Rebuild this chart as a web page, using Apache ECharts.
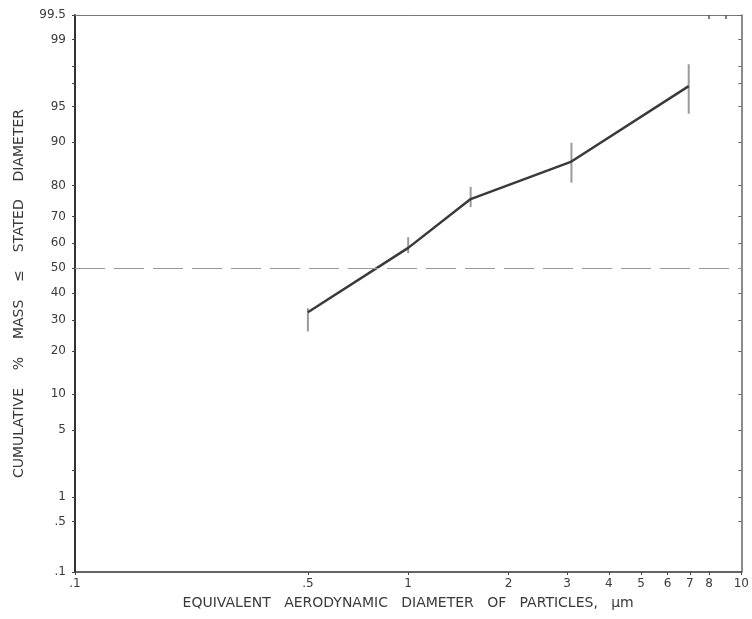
<!DOCTYPE html>
<html>
<head>
<meta charset="utf-8">
<script src="https://cdn.jsdelivr.net/npm/echarts@6/dist/echarts.min.js"></script>
<style>
html,body{margin:0;padding:0;background:#fff;}
#chart{width:752px;height:619px;}
</style>
</head>
<body>
<div id="chart"></div>
<script>
// ---- data ----
const diameters = [0.5, 1.0, 1.54, 3.09, 6.95];          // µm
const cumPercent = [32.7, 58.2, 75.9, 86.1, 96.8];      // cumulative % mass
const errLow = [26.0, 56.1, 73.3, 80.8, 94.2];
const errHigh = [34.2, 62.4, 79.6, 89.9, 98.1];
const refPercent = 50;

const xTickValues = [0.1, 0.5, 1, 2, 3, 4, 5, 6, 7, 8, 10];
const xTickLabels = ['.1', '.5', '1', '2', '3', '4', '5', '6', '7', '8', '10'];
const xTopTicks = [8, 9];
const yTickValues = [0.1, 0.5, 1, 5, 10, 20, 30, 40, 50, 60, 70, 80, 90, 95, 99, 99.5];
const yTickLabels = ['.1', '.5', '1', '5', '10', '20', '30', '40', '50', '60', '70', '80', '90', '95', '99', '99.5'];
const yMinorTicks = [2, 97, 98];

// ---- scale helpers: log10 for diameter, probit (normal quantile) for percent ----
function probit(p) {
  const a=[-3.969683028665376e+01,2.209460984245205e+02,-2.759285104469687e+02,1.383577518672690e+02,-3.066479806614716e+01,2.506628277459239e+00];
  const b=[-5.447609879822406e+01,1.615858368580409e+02,-1.556989798598866e+02,6.680131188771972e+01,-1.328068155288572e+01];
  const c=[-7.784894002430293e-03,-3.223964580411365e-01,-2.400758277161838e+00,-2.549732539343734e+00,4.374664141464968e+00,2.938163982698783e+00];
  const d=[7.784695709041462e-03,3.224671290700398e-01,2.445134137142996e+00,3.754408661907416e+00];
  const pl=0.02425, ph=1-pl;
  if (p < pl) { const q=Math.sqrt(-2*Math.log(p)); return (((((c[0]*q+c[1])*q+c[2])*q+c[3])*q+c[4])*q+c[5])/((((d[0]*q+d[1])*q+d[2])*q+d[3])*q+1); }
  if (p <= ph) { const q=p-0.5, r=q*q; return (((((a[0]*r+a[1])*r+a[2])*r+a[3])*r+a[4])*r+a[5])*q/(((((b[0]*r+b[1])*r+b[2])*r+b[3])*r+b[4])*r+1); }
  const q=Math.sqrt(-2*Math.log(1-p)); return -(((((c[0]*q+c[1])*q+c[2])*q+c[3])*q+c[4])*q+c[5])/((((d[0]*q+d[1])*q+d[2])*q+d[3])*q+1);
}
const fx = v => Math.log10(v);
const fy = v => probit(v / 100);

const xMin = fx(0.1), xMax = fx(10);
const yMin = fy(0.1), yMax = fy(99.5);

function labelFor(values, labels, f) {
  return function (val) {
    for (let i = 0; i < values.length; i++) {
      if (Math.abs(f(values[i]) - val) < 1e-6) return labels[i];
    }
    return '';
  };
}

const lineData = diameters.map((d, i) => [fx(d), fy(cumPercent[i])]);
const errData = diameters.map((d, i) => [fx(d), fy(errLow[i]), fy(errHigh[i])]);

const font = 'DejaVu Sans';
const txt = '#3a3a3a';

const chart = echarts.init(document.getElementById('chart'));
chart.setOption({
  animation: false,
  backgroundColor: '#ffffff',
  grid: { left: 75, right: 7, top: 15, bottom: 47, containLabel: false },
  xAxis: [{
    type: 'value', min: xMin, max: xMax, position: 'bottom',
    name: 'EQUIVALENT   AERODYNAMIC   DIAMETER   OF   PARTICLES,   μm',
    nameLocation: 'middle', nameGap: 24,
    nameTextStyle: { fontFamily: font, fontSize: 14, color: txt },
    axisLine: { show: true, onZero: false, lineStyle: { color: '#333', width: 1.5 } },
    axisTick: { show: true, inside: false, length: 3, lineStyle: { color: '#444' }, customValues: xTickValues.map(fx) },
    axisLabel: { show: true, margin: 6, fontFamily: font, fontSize: 12, color: txt,
      customValues: xTickValues.map(fx), formatter: labelFor(xTickValues, xTickLabels, fx) },
    splitLine: { show: false }
  }, {
    type: 'value', min: xMin, max: xMax, position: 'top',
    axisLine: { show: true, onZero: false, lineStyle: { color: '#777', width: 1 } },
    axisTick: { show: true, inside: true, length: 4, lineStyle: { color: '#555', width: 1.5 }, customValues: xTopTicks.map(fx) },
    axisLabel: { show: false },
    splitLine: { show: false }
  }],
  yAxis: [{
    type: 'value', min: yMin, max: yMax, position: 'left',
    name: 'CUMULATIVE    %    MASS    ≤    STATED    DIAMETER',
    nameLocation: 'middle', nameGap: 49, nameRotate: 90,
    nameTextStyle: { fontFamily: font, fontSize: 14, color: txt },
    axisLine: { show: true, onZero: false, lineStyle: { color: '#333', width: 2 } },
    axisTick: { show: true, inside: false, length: 3, lineStyle: { color: '#444' },
      customValues: yTickValues.concat(yMinorTicks).map(fy) },
    axisLabel: { show: true, margin: 9, fontFamily: font, fontSize: 12, color: txt,
      customValues: yTickValues.map(fy), formatter: labelFor(yTickValues, yTickLabels, fy) },
    splitLine: { show: false }
  }, {
    type: 'value', min: yMin, max: yMax, position: 'right',
    axisLine: { show: true, onZero: false, lineStyle: { color: '#666', width: 1.5 } },
    axisTick: { show: true, inside: true, length: 3, lineStyle: { color: '#666' },
      customValues: yTickValues.concat(yMinorTicks).map(fy) },
    axisLabel: { show: false },
    splitLine: { show: false }
  }],
  series: [{
    type: 'custom',
    name: 'range',
    xAxisIndex: 0, yAxisIndex: 0,
    data: errData,
    z: 2,
    renderItem: function (params, api) {
      const p1 = api.coord([api.value(0), api.value(1)]);
      const p2 = api.coord([api.value(0), api.value(2)]);
      return { type: 'line', shape: { x1: p1[0], y1: p1[1], x2: p2[0], y2: p2[1] },
        style: { stroke: '#9a9a9a', lineWidth: 2 } };
    }
  }, {
    type: 'line',
    name: 'cumulative',
    xAxisIndex: 0, yAxisIndex: 0,
    data: lineData,
    z: 3,
    showSymbol: false, symbol: 'none',
    lineStyle: { color: '#3a3a3a', width: 2.5 },
    markLine: {
      silent: true, symbol: 'none', label: { show: false },
      lineStyle: { color: '#9a9a9a', type: [30, 9], width: 1 },
      data: [{ yAxis: fy(refPercent) }]
    }
  }]
});
</script>
</body>
</html>
